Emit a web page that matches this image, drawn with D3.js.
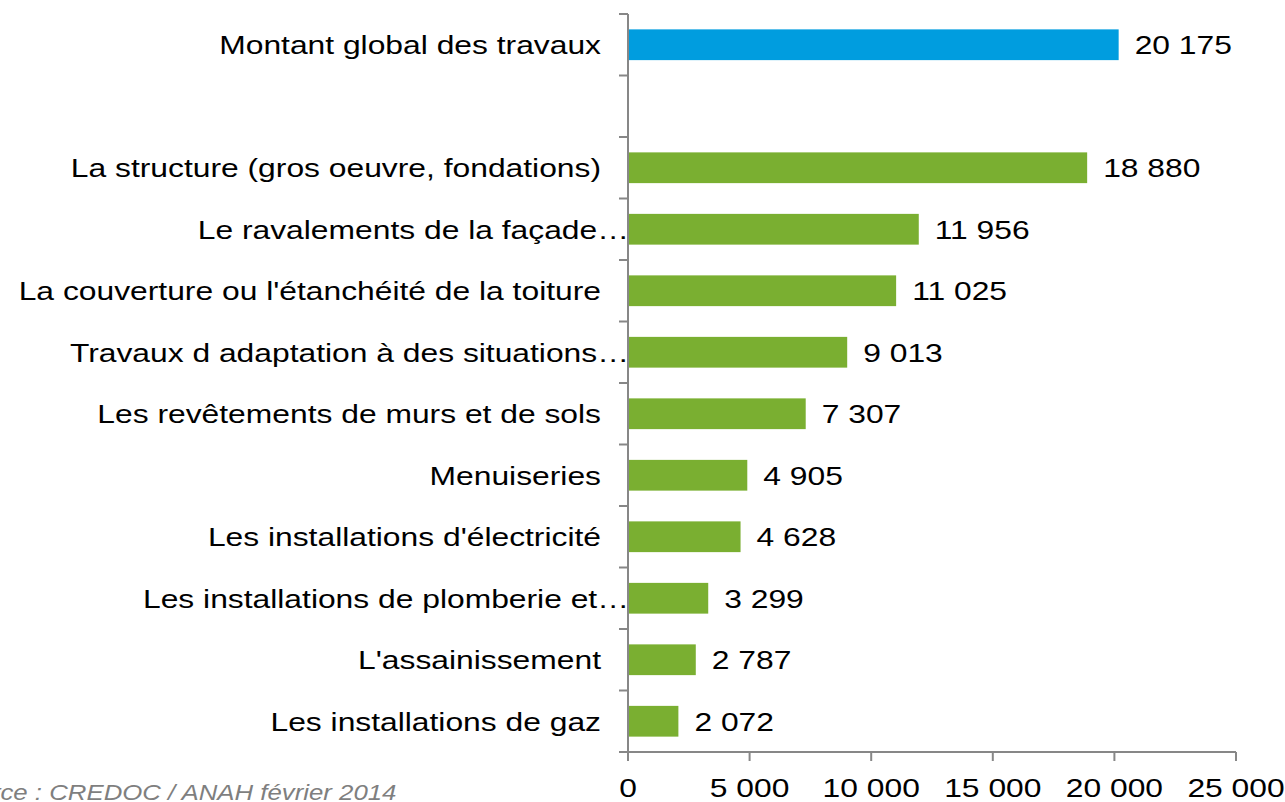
<!DOCTYPE html>
<html>
<head>
<meta charset="utf-8">
<script src="https://cdn.jsdelivr.net/npm/d3@7"></script>
<style>
  html, body { margin: 0; padding: 0; background: #ffffff; }
  svg { display: block; }
</style>
</head>
<body>
<svg id="chart" width="1285" height="802"></svg>
<script>
// Montant moyen des travaux par poste (en euros)
const categories = [
  "Montant global des travaux",
  "",
  "La structure (gros oeuvre, fondations)",
  "Le ravalements de la façade…",
  "La couverture ou l'étanchéité de la toiture",
  "Travaux d adaptation à des situations…",
  "Les revêtements de murs et de sols",
  "Menuiseries",
  "Les installations d'électricité",
  "Les installations de plomberie et…",
  "L'assainissement",
  "Les installations de gaz"
];
const values = [20175, null, 18880, 11956, 11025, 9013, 7307, 4905, 4628, 3299, 2787, 2072];
const xTicks = [0, 5000, 10000, 15000, 20000, 25000];
const sourceNote = "Source : CREDOC / ANAH février 2014";

(function draw() {
  const rows = categories.map((c, i) => ({ key: i, label: c, value: values[i] }));

  const svg = d3.select("#chart");
  const stretch = 1.2;          // horizontal text stretch
  const fontSize = 26.5;
  const fontFamily = "Arial, 'Liberation Sans', Helvetica, sans-serif";

  const plotLeft = 628, plotRight = 1236, plotTop = 14, plotBottom = 752;

  const x = d3.scaleLinear().domain([0, 25000]).range([plotLeft, plotRight]);
  const y = d3.scaleBand().domain(rows.map(d => d.key)).range([plotTop, plotBottom])
    .paddingInner(0.5).paddingOuter(0.25);

  const fr = d3.formatLocale({ decimal: ",", thousands: " ", grouping: [3], currency: ["", " €"] });
  const fmt = fr.format(",");

  function stretchedText(sel, px, py) {
    return sel.attr("x", 0).attr("y", 0)
      .attr("transform", `translate(${px},${py}) scale(${stretch},1)`)
      .style("font-family", fontFamily)
      .style("font-size", fontSize + "px");
  }

  // bars
  const barRows = rows.filter(d => d.value != null);
  svg.append("g").selectAll("rect").data(barRows).join("rect")
    .attr("x", x(0))
    .attr("y", d => y(d.key))
    .attr("width", d => x(d.value) - x(0))
    .attr("height", y.bandwidth())
    .attr("fill", d => d.key === 0 ? "#009DDF" : "#7AAF31");

  // value labels
  barRows.forEach(d => {
    stretchedText(svg.append("text"), x(d.value) + 16, y(d.key) + y.bandwidth() / 2 + 9.5)
      .attr("fill", "#000")
      .text(fmt(d.value));
  });

  // category labels
  rows.filter(d => d.label).forEach(d => {
    const truncated = d.label.endsWith("…");
    stretchedText(svg.append("text"), truncated ? 629 : 601, y(d.key) + y.bandwidth() / 2 + 9.5)
      .attr("text-anchor", "end")
      .attr("fill", "#000")
      .text(d.label);
  });

  // vertical axis with ticks at band boundaries
  const axisColor = "#878787";
  const step = y.step();
  const boundaries = d3.range(categories.length + 1).map(i => plotTop + i * step);
  const gy = svg.append("g");
  gy.append("line").attr("x1", plotLeft).attr("x2", plotLeft).attr("y1", plotTop).attr("y2", plotBottom)
    .attr("stroke", axisColor).attr("stroke-width", 2);
  gy.selectAll("line.tick").data(boundaries).join("line").attr("class", "tick")
    .attr("x1", plotLeft - 9).attr("x2", plotLeft).attr("y1", d => d).attr("y2", d => d)
    .attr("stroke", axisColor).attr("stroke-width", 2);

  // horizontal axis
  const gx = svg.append("g");
  gx.append("line").attr("x1", plotLeft).attr("x2", plotRight).attr("y1", plotBottom).attr("y2", plotBottom)
    .attr("stroke", axisColor).attr("stroke-width", 2);
  gx.selectAll("line.tick").data(xTicks).join("line").attr("class", "tick")
    .attr("x1", d => x(d)).attr("x2", d => x(d)).attr("y1", plotBottom).attr("y2", plotBottom + 9)
    .attr("stroke", axisColor).attr("stroke-width", 2);
  xTicks.forEach(t => {
    stretchedText(svg.append("text"), x(t), 797)
      .attr("text-anchor", "middle")
      .attr("fill", "#000")
      .text(fmt(t));
  });

  // source note
  stretchedText(svg.append("text"), -54, 800)
    .style("font-size", "21.5px")
    .style("font-style", "italic")
    .attr("fill", "#7F7F7F")
    .text(sourceNote);
})();
</script>
</body>
</html>
